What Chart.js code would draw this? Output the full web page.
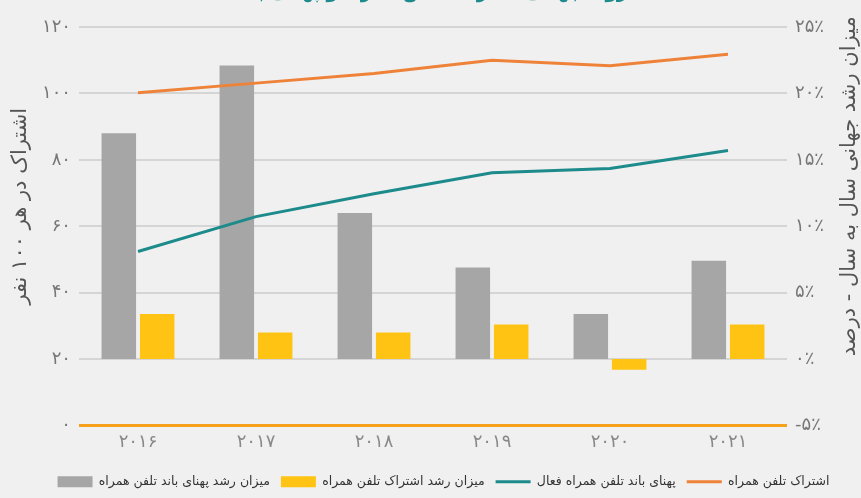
<!DOCTYPE html>
<html lang="fa">
<head>
<meta charset="utf-8">
<title>اشتراک تلفن همراه و پهنای باند</title>
<script src="https://cdn.jsdelivr.net/npm/chart.js@4.4.1/dist/chart.umd.min.js"></script>
<style>
  html, body { margin: 0; padding: 0; background: #f0f0f0; overflow: hidden; }
  #wrap { position: relative; width: 861px; height: 498px; }
  #title {
    position: absolute; left: 0; width: 861px; top: -19px;
    text-align: center; direction: rtl;
    font: bold 18px "DejaVu Sans", sans-serif; color: #1d8b8b;
  }
</style>
</head>
<body>
<div id="wrap">
  <div id="title">روند جهانی اشتراک تلفن همراه و پهنای باند</div>
  <canvas id="myChart"></canvas>
</div>
<script>
// داده ها
const years = [2016, 2017, 2018, 2019, 2020, 2021];
const mobileSubs = [100.2, 103.1, 106, 110, 108.3, 111.8];
const activeBroadband = [52.4, 62.9, 69.8, 76.1, 77.4, 82.8];
const broadbandGrowth = [17.0, 22.1, 11.0, 6.9, 3.4, 7.4];
const subsGrowth = [3.4, 2.0, 2.0, 2.6, -0.8, 2.6];

const leftTitle = "اشتراک در هر ۱۰۰ نفر";
const rightTitle = "میزان رشد جهانی سال به سال - درصد";

function toFa(v) {
  return String(v).replace(/\d/g, (d) => "۰۱۲۳۴۵۶۷۸۹"[d]);
}

const font = "'DejaVu Sans', sans-serif";

// عنوان محورها (هر دو رو به بالا خوانده می شوند)
const axisTitles = {
  id: "axisTitles",
  afterDraw(chart) {
    const c = chart.ctx;
    const area = chart.chartArea;
    const mid = (area.top + area.bottom) / 2;
    c.save();
    c.fillStyle = "#555";
    c.font = "21px " + font;
    c.textAlign = "center";
    c.textBaseline = "middle";

    c.save();
    c.translate(21, mid - 20);
    c.rotate(-Math.PI / 2);
    c.fillText(leftTitle, 0, 0);
    c.restore();

    c.save();
    c.translate(850, mid - 40);
    c.rotate(-Math.PI / 2);
    c.fillText(rightTitle, 0, 0);
    c.restore();

    c.restore();
  },
};

const ctx = document.getElementById("myChart");

new Chart(ctx, {
  type: "bar",
  data: {
    labels: years,
    datasets: [
      {
        label: "میزان رشد پهنای باند تلفن همراه",
        data: broadbandGrowth,
        backgroundColor: "#a6a6a6",
        yAxisID: "y1",
        order: 2,
        pointStyle: "rect",
      },
      {
        label: "میزان رشد اشتراک تلفن همراه",
        data: subsGrowth,
        backgroundColor: "#ffc314",
        yAxisID: "y1",
        order: 2,
        pointStyle: "rect",
      },
      {
        type: "line",
        label: "پهنای باند تلفن همراه فعال",
        data: activeBroadband,
        borderColor: "#1d8b8b",
        backgroundColor: "#1d8b8b",
        borderWidth: 3,
        pointRadius: 0,
        pointStyle: "line",
        yAxisID: "y",
        order: 1,
      },
      {
        type: "line",
        label: "اشتراک تلفن همراه",
        data: mobileSubs,
        borderColor: "#ef8239",
        backgroundColor: "#ef8239",
        borderWidth: 3,
        pointRadius: 0,
        pointStyle: "line",
        yAxisID: "y",
        order: 1,
      },
    ],
  },
  plugins: [axisTitles],
  options: {
    responsive: true,
    maintainAspectRatio: false,
    animation: false,
    datasets: {
      bar: { categoryPercentage: 0.65, barPercentage: 0.9 },
    },
    layout: { padding: { top: 27, left: 26, right: 0, bottom: 0 } },
    plugins: {
      tooltip: { enabled: false },
      legend: {
        position: "bottom",
        labels: {
          usePointStyle: true,
          pointStyleWidth: 35,
          boxHeight: 11,
          padding: 11,
          color: "#333",
          font: { family: font, size: 12.5 },
          sort: (a, b) => a.datasetIndex - b.datasetIndex,
        },
      },
    },
    scales: {
      x: {
        grid: { display: false, drawTicks: false },
        border: { display: false },
        ticks: {
          color: "#888",
          padding: 6,
          font: { family: font, size: 18 },
          callback: function (v) {
            return toFa(this.getLabelForValue(v));
          },
        },
        afterFit: (s) => { s.height = 39; },
      },
      y: {
        position: "left",
        min: 0,
        max: 120,
        ticks: {
          stepSize: 20,
          color: "#777",
          padding: 8,
          font: { family: font, size: 18 },
          callback: (v) => toFa(v),
        },
        grid: {
          drawTicks: false,
          color: (c) => (c.tick && c.tick.value === 0 ? "#f6a11c" : "#d5d5d5"),
          lineWidth: (c) => (c.tick && c.tick.value === 0 ? 3 : 2),
        },
        border: { display: false },
        afterFit: (s) => { s.width = 53; },
      },
      y1: {
        position: "right",
        min: -5,
        max: 25,
        ticks: {
          stepSize: 5,
          color: "#777",
          padding: 8,
          font: { family: font, size: 18 },
          callback: (v) => toFa(v) + "٪",
        },
        grid: { display: false, drawTicks: false },
        border: { display: false },
        afterFit: (s) => { s.width = 74; },
      },
    },
  },
});
</script>
</body>
</html>
